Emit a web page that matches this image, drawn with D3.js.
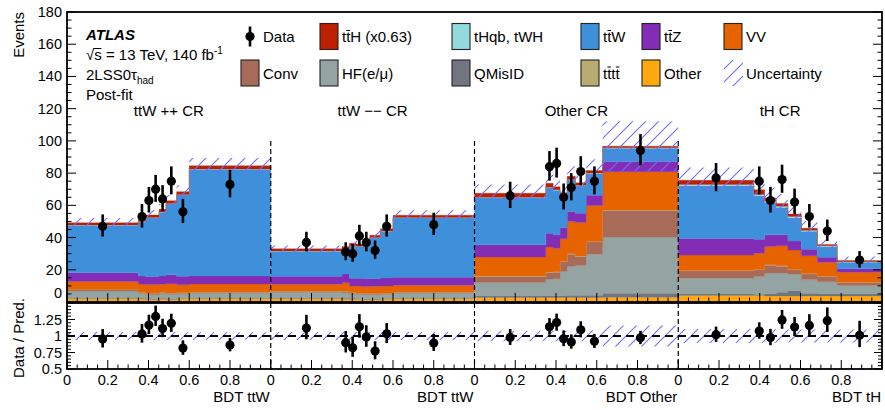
<!DOCTYPE html>
<html>
<head>
<meta charset="utf-8">
<script src="https://cdn.jsdelivr.net/npm/d3@7"></script>
<style>
  body { margin: 0; background: #fff; }
  svg { display: block; font-family: "Liberation Sans", Arial, Helvetica, sans-serif; }
</style>
</head>
<body>
<svg id="chart" width="885" height="410"></svg>
<script>
// ---- Regions and binning -------------------------------------------------
const regionNames = ["ttW ++ CR", "ttW \u2212\u2212 CR", "Other CR", "tH CR"];
const axisTitles = ["BDT ttW", "BDT ttW", "BDT Other", "BDT tH"];
const binEdges = [
  [0, 0.35, 0.386, 0.418, 0.452, 0.486, 0.538, 0.6, 1],
  [0, 0.35, 0.386, 0.418, 0.452, 0.486, 0.538, 0.6, 1],
  [0, 0.35, 0.386, 0.42, 0.455, 0.495, 0.548, 0.629, 1],
  [0, 0.371, 0.424, 0.481, 0.538, 0.604, 0.683, 0.78, 1]
];
const xTickValues = [0, 0.2, 0.4, 0.6, 0.8];
const yTickValues = [0, 20, 40, 60, 80, 100, 120, 140, 160, 180];
const ratioTickValues = [0.5, 0.75, 1, 1.25];

// ---- Post-fit yields, 8 bins per region (ttW++, ttW--, Other, tH) -------
const other  = [2, 1.8, 1.6, 1.6, 1.8, 1.6, 1.8, 2,   2, 1.8, 1.7, 1.7, 1.6, 1.6, 1.8, 2,
                2.8, 2.8, 2.8, 2.8, 2.8, 2.8, 2.8, 3,   4, 4, 3.8, 3.8, 3.8, 3.8, 3.8, 3.8];
const qmisid = [0.3, 0.5, 0.5, 0.4, 0.6, 0.5, 0.4, 0.4,   0.4, 0.5, 0.6, 0.5, 0.5, 0.5, 0.4, 0.4,
                1, 1.2, 1.2, 1.2, 1.4, 1.4, 1.4, 2.5,   1, 0.8, 1.4, 2.2, 3.4, 1.6, 1.4, 1.2];
const hf     = [4.5, 3, 2.5, 2.5, 2.8, 2.8, 2.8, 3,   3.6, 3.4, 2.6, 2.6, 2.6, 2.5, 2.6, 3,
                8.3, 10.3, 10.5, 15, 18.2, 18.5, 25.4, 34.8,   9.7, 11, 12.8, 12, 10.2, 8.5, 7.4, 5.3];
const conv   = [0.8, 0.6, 0.5, 0.6, 0.6, 0.5, 0.5, 0.6,   0.6, 0.8, 0.6, 0.5, 0.5, 0.5, 0.5, 0.6,
                3.7, 4, 4, 6, 7.2, 5.6, 7.7, 16.5,   4.6, 4.1, 4.8, 4.2, 2.5, 3.5, 3.1, 1.7];
const tttt   = [0.2, 0.2, 0.2, 0.2, 0.2, 0.2, 0.2, 0.2,   0.2, 0.2, 0.2, 0.2, 0.2, 0.2, 0.2, 0.2,
                0.3, 0.3, 0.3, 0.3, 0.3, 0.3, 0.3, 0.3,   0.3, 0.3, 0.3, 0.3, 0.3, 0.3, 0.3, 0.3];
const vv     = [5, 5, 5.5, 5.5, 5, 5.8, 5, 5,   4.2, 5.2, 4.2, 4.5, 4.2, 4.4, 4.4, 4.2,
                11.8, 15.5, 14.5, 14, 20, 20.7, 22.3, 23.8,   9.5, 10, 11.3, 12.4, 12, 11, 8.7, 6.2];
const ttz    = [5.3, 5, 5, 5, 5.2, 5.5, 5.3, 5,   5, 5.5, 4.8, 4.8, 5, 4.8, 5, 5,
                7.6, 8.5, 8.3, 7, 6.2, 5.8, 6.3, 6.2,   10.3, 8.7, 7.3, 6.8, 5.6, 4.1, 3.1, 2.1];
const ttw    = [29.5, 33.6, 36.5, 36.4, 39.5, 44, 50.5, 66.2,   15.5, 15.5, 20.2, 19.6, 21.2, 25.3, 29, 36.8,
                29.2, 28.4, 27.8, 19.2, 19.6, 17, 13.5, 8.3,   32.8, 27, 20, 17, 14.5, 11.1, 6.5, 4];
const thqb   = [0.2, 0.2, 0.2, 0.2, 0.2, 0.2, 0.2, 0.2,   0.2, 0.2, 0.2, 0.2, 0.2, 0.2, 0.2, 0.2,
                0.3, 0.3, 0.3, 0.3, 0.3, 0.3, 0.3, 0.3,   0.8, 0.8, 0.8, 0.8, 0.8, 0.6, 0.6, 0.4];
const tth    = [1.4, 1.5, 1.5, 1.6, 1.6, 1.8, 1.8, 2,   1.3, 1.4, 1.4, 1.4, 1.5, 1.5, 1.4, 1.4,
                2.5, 2.4, 1.8, 2, 2, 1.6, 1.6, 1,   2.5, 3, 2, 1.6, 1.5, 1.2, 0.8, 0.7];
// Total post-fit uncertainty (absolute, events)
const uncertainty = [3, 3, 3.2, 3.2, 3.4, 3.7, 4, 4.8,   2, 2.1, 2.2, 2.2, 2.3, 2.5, 2.7, 3.2,
                     5.4, 5.8, 5.7, 5.5, 6.2, 6, 7, 15.5,   8, 7, 6.5, 6, 5.3, 4.5, 3.5, 2.5];
// Observed events
const observed = [47, 53, 63, 70, 64, 75, 56, 73,   37, 31, 30, 41, 37, 32, 47, 48,
                  66, 84, 86, 65, 71, 81, 75, 94,   77, 75, 63, 76, 62, 53, 44, 26];

// ---- Sample styling (stack order bottom -> top) ---------------------------
const samples = [
  { key: "other",  values: other,  color: "#ffa90e" },
  { key: "qmisid", values: qmisid, color: "#717581" },
  { key: "hf",     values: hf,     color: "#94a4a2" },
  { key: "conv",   values: conv,   color: "#a96b59" },
  { key: "tttt",   values: tttt,   color: "#b9ac70" },
  { key: "vv",     values: vv,     color: "#e76300" },
  { key: "ttz",    values: ttz,    color: "#832db6" },
  { key: "ttw",    values: ttw,    color: "#3f90da" },
  { key: "thqb",   values: thqb,   color: "#92dadd" },
  { key: "tth",    values: tth,    color: "#bd1f01" }
];
const colorOf = Object.fromEntries(samples.map(s => [s.key, s.color]));
const hatchColor = "#6f6ff2";

// ---- Layout ---------------------------------------------------------------
const plotL = 67, plotR = 882;
const mainTop = 12, mainBot = 302;
const ratioTop = 303, ratioBot = 369;
const nRegions = regionNames.length, nBins = 8;
const regionW = (plotR - plotL) / nRegions;

const svg = d3.select("#chart");
const defs = svg.append("defs");

const hatch = defs.append("pattern").attr("id", "hatch")
  .attr("patternUnits", "userSpaceOnUse").attr("width", 13).attr("height", 13);
hatch.append("path").attr("d", "M-1,14 L14,-1 M-3,3 L3,-3 M10,16 L16,10")
  .attr("stroke", hatchColor).attr("stroke-width", 1.1).attr("fill", "none");

defs.append("clipPath").attr("id", "clipMain").append("rect")
  .attr("x", plotL).attr("y", mainTop).attr("width", plotR - plotL).attr("height", mainBot - mainTop);
defs.append("clipPath").attr("id", "clipRatio").append("rect")
  .attr("x", plotL).attr("y", ratioTop).attr("width", plotR - plotL).attr("height", ratioBot - ratioTop);

const y = d3.scaleLinear().domain([0, 180]).range([mainBot, mainTop]);
const yr = d3.scaleLinear().domain([0.5, 1.5]).range([ratioBot, ratioTop]);
const xr = d3.range(nRegions).map(r =>
  d3.scaleLinear().domain([0, 1]).range([plotL + r * regionW, plotL + (r + 1) * regionW]));

// ---- Stack ----------------------------------------------------------------
const rows = observed.map((n, k) => {
  const row = { k, r: Math.floor(k / nBins), b: k % nBins };
  samples.forEach(s => { row[s.key] = s.values[k]; });
  return row;
});
const keys = samples.map(s => s.key);
const series = d3.stack().keys(keys)(rows);
const totals = rows.map(row => d3.sum(keys, key => row[key]));

function stepPoints(r, f) {
  const e = binEdges[r];
  const pts = d3.range(nBins).map(b => Object.assign({ x: e[b] }, f(r * nBins + b)));
  pts.push(Object.assign({ x: 1 }, f(r * nBins + nBins - 1)));
  return pts;
}

const gMain = svg.append("g").attr("clip-path", "url(#clipMain)");
const gRatio = svg.append("g").attr("clip-path", "url(#clipRatio)");

for (let r = 0; r < nRegions; r++) {
  const area = d3.area().x(d => xr[r](d.x)).y0(d => y(d.y0)).y1(d => y(d.y1)).curve(d3.curveStepAfter);
  series.forEach(s => {
    const pts = stepPoints(r, k => ({ y0: s[k][0], y1: s[k][1] }));
    gMain.append("path").attr("d", area(pts)).attr("fill", colorOf[s.key])
      .attr("stroke", colorOf[s.key]).attr("stroke-width", 0.3);
  });
  // uncertainty band on the total prediction
  gMain.append("path")
    .attr("d", area(stepPoints(r, k => ({ y0: totals[k] - uncertainty[k], y1: totals[k] + uncertainty[k] }))))
    .attr("fill", "url(#hatch)");

  const areaR = d3.area().x(d => xr[r](d.x)).y0(d => yr(d.y0)).y1(d => yr(d.y1)).curve(d3.curveStepAfter);
  gRatio.append("path")
    .attr("d", areaR(stepPoints(r, k => ({ y0: 1 - uncertainty[k] / totals[k], y1: 1 + uncertainty[k] / totals[k] }))))
    .attr("fill", "url(#hatch)");
}

// unity line in the ratio panel
gRatio.append("line").attr("x1", plotL).attr("x2", plotR).attr("y1", yr(1)).attr("y2", yr(1))
  .attr("stroke", "#000").attr("stroke-width", 2).attr("stroke-dasharray", "8,5");

// region separators
for (let r = 1; r < nRegions; r++) {
  const xs = xr[r](0);
  svg.append("line").attr("x1", xs).attr("x2", xs).attr("y1", y(100)).attr("y2", y(0))
    .attr("stroke", "#000").attr("stroke-width", 1.2).attr("stroke-dasharray", "5,3");
  svg.append("line").attr("x1", xs).attr("x2", xs).attr("y1", ratioTop).attr("y2", ratioBot)
    .attr("stroke", "#000").attr("stroke-width", 1.2).attr("stroke-dasharray", "5,3");
}

// ---- Data points ----------------------------------------------------------
const points = observed.map((n, k) => {
  const r = Math.floor(k / nBins), b = k % nBins;
  const e = binEdges[r];
  const s = Math.sqrt(n + 0.25);
  return { x: xr[r]((e[b] + e[b + 1]) / 2), n, up: s + 0.5, dn: s - 0.5, tot: totals[k] };
});
const gPts = svg.append("g");
points.forEach(p => {
  gPts.append("line").attr("x1", p.x).attr("x2", p.x)
    .attr("y1", y(p.n + p.up)).attr("y2", y(p.n - p.dn))
    .attr("stroke", "#000").attr("stroke-width", 2.6);
  gPts.append("circle").attr("cx", p.x).attr("cy", y(p.n)).attr("r", 4.6).attr("fill", "#000");
  const ratio = p.n / p.tot;
  gPts.append("line").attr("x1", p.x).attr("x2", p.x)
    .attr("y1", yr(ratio + p.up / p.tot)).attr("y2", yr(ratio - p.dn / p.tot))
    .attr("stroke", "#000").attr("stroke-width", 2.6);
  gPts.append("circle").attr("cx", p.x).attr("cy", yr(ratio)).attr("r", 4.6).attr("fill", "#000");
});

// ---- Axes -----------------------------------------------------------------
const gAx = svg.append("g").attr("stroke", "#000").attr("fill", "none");
function tick(x1, y1, x2, y2, w) {
  gAx.append("line").attr("x1", x1).attr("y1", y1).attr("x2", x2).attr("y2", y2).attr("stroke-width", w || 1);
}
// frames
gAx.append("rect").attr("x", plotL).attr("y", mainTop).attr("width", plotR - plotL).attr("height", mainBot - mainTop)
  .attr("stroke-width", 1.8);
gAx.append("rect").attr("x", plotL).attr("y", ratioTop).attr("width", plotR - plotL).attr("height", ratioBot - ratioTop)
  .attr("stroke-width", 1.8);

// y ticks (main)
d3.range(0, 181, 5).forEach(v => {
  const len = v % 20 === 0 ? 9 : 4.5;
  tick(plotL, y(v), plotL + len, y(v));
  tick(plotR, y(v), plotR - len, y(v));
});
// y ticks (ratio)
d3.range(0.5, 1.501, 0.05).forEach(v => {
  const major = Math.abs(v * 4 - Math.round(v * 4)) < 1e-6;
  const len = major ? 8 : 4;
  tick(plotL, yr(v), plotL + len, yr(v));
  tick(plotR, yr(v), plotR - len, yr(v));
});
// x ticks
for (let r = 0; r < nRegions; r++) {
  d3.range(0, 1.0001, 0.05).forEach(v => {
    const major = Math.abs(v * 5 - Math.round(v * 5)) < 1e-6;
    const len = major ? 9 : 4.5;
    const xx = xr[r](v);
    tick(xx, mainBot, xx, mainBot - len);
    tick(xx, ratioBot, xx, ratioBot - len);
  });
}

const gTxt = svg.append("g").attr("fill", "#000");
// y labels
yTickValues.forEach(v => {
  gTxt.append("text").attr("x", 62).attr("y", v === 0 ? 298 : y(v) + 5)
    .attr("text-anchor", "end").attr("font-size", 14.5).text(v);
});
ratioTickValues.forEach(v => {
  gTxt.append("text").attr("x", 62).attr("y", yr(v) + 5)
    .attr("text-anchor", "end").attr("font-size", 14.5).text(d3.format("")(v));
});
// x labels
for (let r = 0; r < nRegions; r++) {
  xTickValues.forEach(v => {
    gTxt.append("text").attr("x", xr[r](v)).attr("y", 385)
      .attr("text-anchor", "middle").attr("font-size", 14.5).text(v === 0 ? "0" : d3.format(".1f")(v));
  });
  gTxt.append("text").attr("x", xr[r](1) - 1).attr("y", 402)
    .attr("text-anchor", "end").attr("font-size", 15).text(axisTitles[r]);
  gTxt.append("text").attr("x", xr[r](0.5)).attr("y", 116)
    .attr("text-anchor", "middle").attr("font-size", 15).text(regionNames[r]);
}
// axis titles
gTxt.append("text").attr("transform", "translate(24,12) rotate(-90)")
  .attr("text-anchor", "end").attr("font-size", 15).text("Events");
gTxt.append("text").attr("transform", "translate(24,338) rotate(-90)")
  .attr("text-anchor", "middle").attr("font-size", 15).text("Data / Pred.");

// Draws a short bar above selected characters of a text element (anti-quark bars, root sign)
function barOver(textSel, charIdx, baseY, x0pad, x1pad) {
  const node = textSel.node();
  charIdx.forEach(i => {
    const ext = node.getExtentOfChar(i);
    textSel.select(function () { return this.parentNode; }).append("line")
      .attr("x1", ext.x + (x0pad || 0.3)).attr("x2", ext.x + ext.width - (x1pad || 0.3))
      .attr("y1", baseY - 12).attr("y2", baseY - 12)
      .attr("stroke", "#000").attr("stroke-width", 1);
  });
}

// ---- ATLAS label ----------------------------------------------------------
gTxt.append("text").attr("x", 86).attr("y", 40).attr("font-size", 15)
  .attr("font-weight", "bold").attr("font-style", "italic").text("ATLAS");
const t2 = gTxt.append("text").attr("x", 86).attr("y", 60).attr("font-size", 15);
t2.append("tspan").text("\u221As = 13 TeV, 140 fb");
t2.append("tspan").attr("font-size", 10).attr("dy", -6).text("-1");
barOver(t2, [1], 60.5, -0.5, 0);
const t3 = gTxt.append("text").attr("x", 86).attr("y", 80).attr("font-size", 15);
t3.append("tspan").text("2LSS0\u03C4");
t3.append("tspan").attr("font-size", 10).attr("dy", 4).text("had");
gTxt.append("text").attr("x", 86).attr("y", 100).attr("font-size", 15).text("Post-fit");

// ---- Legend ---------------------------------------------------------------
const legendCols = [241, 320, 452, 581, 642, 724];
const legendRows = [23.5, 60];
const legendItems = [
  { type: "data", label: "Data", bars: [], col: 0, row: 0 },
  { type: "box", key: "tth", label: "ttH (x0.63)", bars: [1], col: 1, row: 0 },
  { type: "box", key: "thqb", label: "tHqb, tWH", bars: [], col: 2, row: 0 },
  { type: "box", key: "ttw", label: "ttW", bars: [1], col: 3, row: 0 },
  { type: "box", key: "ttz", label: "ttZ", bars: [1], col: 4, row: 0 },
  { type: "box", key: "vv", label: "VV", bars: [], col: 5, row: 0 },
  { type: "box", key: "conv", label: "Conv", bars: [], col: 0, row: 1 },
  { type: "box", key: "hf", label: "HF(e/\u03BC)", bars: [], col: 1, row: 1 },
  { type: "box", key: "qmisid", label: "QMisID", bars: [], col: 2, row: 1 },
  { type: "box", key: "tttt", label: "tttt", bars: [1, 3], col: 3, row: 1 },
  { type: "box", key: "other", label: "Other", bars: [], col: 4, row: 1 },
  { type: "hatch", label: "Uncertainty", bars: [], col: 5, row: 1 }
];
const gLeg = svg.append("g");
legendItems.forEach(it => {
  const x0 = legendCols[it.col], y0 = legendRows[it.row];
  const g = gLeg.append("g");
  if (it.type === "data") {
    g.append("line").attr("x1", x0 + 9).attr("x2", x0 + 9).attr("y1", y0 + 3).attr("y2", y0 + 23)
      .attr("stroke", "#000").attr("stroke-width", 2.6);
    g.append("circle").attr("cx", x0 + 9).attr("cy", y0 + 13).attr("r", 4.6).attr("fill", "#000");
  } else if (it.type === "box") {
    g.append("rect").attr("x", x0).attr("y", y0).attr("width", 18).attr("height", 26)
      .attr("fill", colorOf[it.key]).attr("stroke", "#222").attr("stroke-width", 1.1);
  } else {
    g.append("rect").attr("x", x0).attr("y", y0).attr("width", 19).attr("height", 26)
      .attr("fill", "url(#hatch)");
  }
  const t = g.append("text").attr("x", x0 + 22).attr("y", y0 + 18.5)
    .attr("font-size", 15).attr("fill", "#000").text(it.label);
  barOver(t, it.bars, y0 + 19);
});
</script>
</body>
</html>
